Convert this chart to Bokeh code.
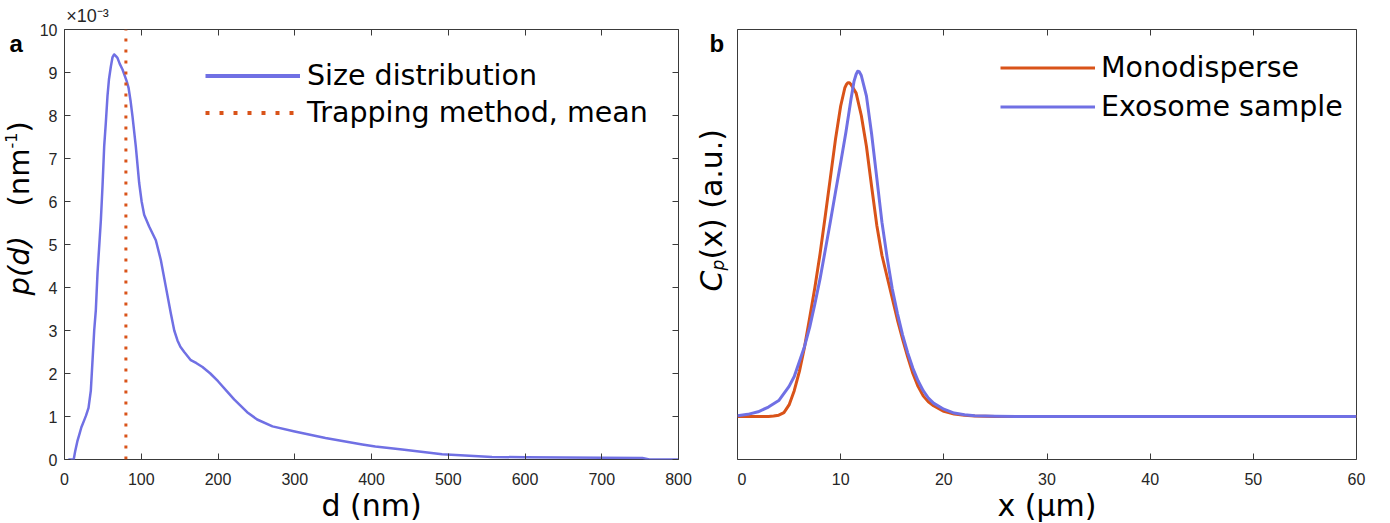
from bokeh.plotting import figure
from bokeh.layouts import row
from bokeh.models import Label, Legend, LegendItem, FixedTicker, LinearAxis
from bokeh.embed import file_html
from bokeh.resources import INLINE

# ---------------- data ----------------
# Panel a: size distribution p(d); values in units of 1e-3 nm^-1
d_nm = [5, 12, 14, 17, 19, 22, 25.6, 28, 31.3, 34.3, 36.5, 38.7, 40.8, 43, 45.2, 47.4, 49.5, 51.7,
        53.8, 56, 58, 60.4, 62.5, 64.7, 67, 69, 72, 75.6, 81, 83.4, 86, 88.6, 92.9, 97.3, 100.5,
        103.8, 110.3, 119, 125.5, 132, 138.5, 143, 147.2, 151, 156, 164.6, 172, 179.8, 190, 200,
        212, 221, 229, 238, 251, 271, 300, 340, 388, 405, 440, 492, 557, 601, 650, 701, 753, 762, 800]
p_d = [0, 0, 0.2, 0.44, 0.56, 0.75, 0.91, 1.02, 1.2, 1.6, 2.3, 3.0, 3.47, 4.33, 4.95, 5.57, 6.35, 7.28,
       7.82, 8.45, 8.85, 9.14, 9.35, 9.42, 9.38, 9.34, 9.2, 9.07, 8.8, 8.65, 8.35, 7.98, 7.28, 6.43, 6.0,
       5.69, 5.42, 5.1, 4.64, 4.02, 3.4, 3.0, 2.77, 2.62, 2.5, 2.31, 2.24, 2.15, 2.0, 1.82,
       1.58, 1.4, 1.26, 1.1, 0.93, 0.77, 0.65, 0.5, 0.35, 0.3, 0.23, 0.12, 0.06, 0.05, 0.045, 0.04, 0.035, 0.0, 0.0]
trap_mean_nm = 80
a_xticks = [0, 100, 200, 300, 400, 500, 600, 700, 800]
a_yticks = [0, 1, 2, 3, 4, 5, 6, 7, 8, 9, 10]
a_multiplier = "\u00d710\u207b\u00b3"

# Panel b: concentration profiles C_p(x), arbitrary units
x_mono = [0, 2, 3, 3.5, 4, 4.5, 5, 5.5, 6, 6.5, 7, 7.5, 8, 8.5, 9, 9.5, 10, 10.4, 10.55, 10.7, 10.85,
          11, 11.5, 12, 12.5, 13, 13.5, 14, 14.5, 15, 15.5, 16, 16.5, 17, 17.5, 18, 18.5, 19, 20, 21, 22,
          23, 25, 30, 40, 50, 60]
c_mono = [0.100, 0.100, 0.100, 0.101, 0.103, 0.109, 0.127, 0.160, 0.205, 0.262, 0.330, 0.400, 0.478,
          0.565, 0.655, 0.745, 0.822, 0.864, 0.872, 0.876, 0.876, 0.872, 0.852, 0.800, 0.728, 0.635,
          0.545, 0.475, 0.425, 0.375, 0.325, 0.280, 0.238, 0.200, 0.170, 0.148, 0.134, 0.125, 0.112,
          0.106, 0.103, 0.101, 0.100, 0.100, 0.100, 0.100, 0.100]
x_exo = [0, 1, 2, 3, 4, 5, 5.5, 6, 6.5, 7, 7.5, 8, 8.5, 9, 9.5, 10, 10.5, 11, 11.3, 11.5, 11.65,
         11.8, 12, 12.5, 13, 13.5, 14, 14.5, 15, 15.5, 16, 16.5, 17, 17.5, 18, 18.5, 19, 20, 21, 22, 23,
         25, 27, 30, 40, 50, 60]
c_exo = [0.102, 0.105, 0.111, 0.122, 0.137, 0.170, 0.193, 0.228, 0.263, 0.308, 0.362, 0.420, 0.486,
         0.553, 0.622, 0.690, 0.760, 0.838, 0.880, 0.896, 0.903, 0.902, 0.893, 0.845, 0.757, 0.655,
         0.552, 0.470, 0.397, 0.340, 0.290, 0.248, 0.212, 0.183, 0.160, 0.143, 0.131, 0.117, 0.108,
         0.104, 0.102, 0.1005, 0.100, 0.100, 0.100, 0.100, 0.100]
b_xticks = [0, 10, 20, 30, 40, 50, 60]

# ---------------- style ----------------
BLUE = "#7070E4"
ORANGE = "#D95319"
AXC = "#3a3a3a"
TXT = "#262626"
TICKF = "Liberation Sans"
LABF = "DejaVu Sans"
H = 523


def style_axis(ax, ticks, show_labels=True):
    ax.ticker = FixedTicker(ticks=ticks)
    ax.axis_line_color = None
    ax.major_tick_line_color = AXC
    ax.major_tick_in = 6
    ax.major_tick_out = 0
    ax.minor_tick_line_color = None
    if show_labels:
        ax.major_label_text_font = TICKF
        ax.major_label_text_font_size = "16px"
        ax.major_label_text_color = TXT
    else:
        ax.major_label_text_font_size = "1px"
        ax.major_label_text_alpha = 0
        ax.major_label_standoff = 0


def make_fig(width, xr, yr, fw, bl, br):
    p = figure(width=width, height=H, frame_width=fw, frame_height=430,
               x_range=xr, y_range=yr, output_backend="svg", toolbar_location=None,
               min_border_left=bl, min_border_right=br, min_border_top=29, min_border_bottom=64)
    p.grid.visible = False
    p.outline_line_color = AXC
    p.outline_line_width = 1
    p.background_fill_color = "white"
    p.border_fill_color = "white"
    return p


def strip(width):
    s = figure(width=width, height=H, x_range=(0, width), y_range=(0, H),
               x_axis_type=None, y_axis_type=None, output_backend="svg", toolbar_location=None,
               min_border_left=0, min_border_right=0, min_border_top=0, min_border_bottom=0)
    s.outline_line_color = None
    s.grid.visible = False
    s.background_fill_color = "white"
    s.border_fill_color = "white"
    return s


def text_label(p, x, y, text, size, font=LABF, style="normal", angle=0, align="left",
               baseline="middle", color="black"):
    p.add_layout(Label(x=x, y=y, x_units="screen", y_units="screen", text=text,
                       text_font=font, text_font_size=size, text_font_style=style,
                       text_color=color, angle=angle, angle_units="deg",
                       text_align=align, text_baseline=baseline))


def x_title(ax, text):
    ax.axis_label = text
    ax.axis_label_text_font = LABF
    ax.axis_label_text_font_size = "30px"
    ax.axis_label_text_font_style = "normal"
    ax.axis_label_text_color = "black"
    ax.axis_label_standoff = 0


# ---------------- left strip of panel a (screen y measured from the aligned frame bottom) ----------------
sa = strip(36)
text_label(sa, 9, 414, "a", "24px", font=TICKF, style="bold", baseline="alphabetic")
text_label(sa, 18, 162, "p(d)", "29px", style="italic", angle=90)
text_label(sa, 18, 251, "(nm", "29px", angle=90)
text_label(sa, 10, 309, "-1", "16px", angle=90)
text_label(sa, 18, 325, ")", "29px", angle=90)

# ---------------- panel a ----------------
p1 = make_fig(654, (0, 800), (0, 10), 614, 26, 14)
style_axis(p1.xaxis[0], a_xticks)
p1.xaxis[0].major_label_standoff = 13
x_title(p1.xaxis[0], "d (nm)")
style_axis(p1.yaxis[0], a_yticks)
p1.yaxis[0].major_label_standoff = 7
top1 = LinearAxis()
style_axis(top1, a_xticks, False)
p1.add_layout(top1, "above")
# exponent multiplier of the y axis, shown above the frame's top-left corner
mult_ax = LinearAxis(ticker=FixedTicker(ticks=[30]), major_label_overrides={30: a_multiplier},
                     axis_line_color=None, major_tick_line_color=None, minor_tick_line_color=None,
                     major_label_text_font=TICKF, major_label_text_font_size="18px",
                     major_label_text_color=TXT, major_label_standoff=-2)
p1.add_layout(mult_ax, "above")
right1 = LinearAxis()
style_axis(right1, a_yticks, False)
p1.add_layout(right1, "right")

p1.line(d_nm, p_d, line_color=BLUE, line_width=2.5, line_join="round")
p1.line([trap_mean_nm, trap_mean_nm], [a_yticks[0], a_yticks[-1]], line_color=ORANGE,
        line_width=3, line_dash="3 8")
# legend-only samples (kept outside the visible ranges)
la1 = p1.line([-200, -100], [-5, -5], line_color=BLUE, line_width=4)
la2 = p1.line([-200, -100], [-5, -5], line_color=ORANGE, line_width=4, line_dash="4 10")
leg1 = Legend(items=[LegendItem(label="Size distribution", renderers=[la1]),
                     LegendItem(label="Trapping method, mean", renderers=[la2])],
              location=(141, 330), padding=0, spacing=4, label_standoff=7,
              glyph_width=95, glyph_height=33, label_height=33,
              label_text_font=LABF, label_text_font_size="28.5px", label_text_color="black",
              border_line_color=None, background_fill_alpha=0)
p1.add_layout(leg1)

# ---------------- left strip of panel b ----------------
sb = strip(45)
text_label(sb, 17, 414, "b", "24px", font=TICKF, style="bold", baseline="alphabetic")
text_label(sb, 19, 166, "C", "30px", style="italic", angle=90)
text_label(sb, 25, 187, "p", "17px", style="italic", angle=90)
text_label(sb, 19, 198, "(x) (a.u.)", "30px", angle=90)

# ---------------- panel b ----------------
p2 = make_fig(655, (0, 60), (0, 1), 619, 0, 36)
style_axis(p2.xaxis[0], b_xticks)
p2.xaxis[0].major_label_standoff = 13
x_title(p2.xaxis[0], "x (\u03bcm)")
p2.yaxis.visible = False
top2 = LinearAxis()
style_axis(top2, b_xticks, False)
p2.add_layout(top2, "above")

r_mono = p2.line(x_mono, c_mono, line_color=ORANGE, line_width=3, line_join="round")
r_exo = p2.line(x_exo, c_exo, line_color=BLUE, line_width=3, line_join="round")
leg2 = Legend(items=[LegendItem(label="Monodisperse", renderers=[r_mono]),
                     LegendItem(label="Exosome sample", renderers=[r_exo])],
              location=(263, 336), padding=0, spacing=6, label_standoff=6,
              glyph_width=95, glyph_height=33, label_height=33,
              label_text_font=LABF, label_text_font_size="28.5px", label_text_color="black",
              border_line_color=None, background_fill_alpha=0)
p2.add_layout(leg2)

layout = row(sa, p1, sb, p2)
open("out.html", "w").write(file_html(layout, INLINE))
